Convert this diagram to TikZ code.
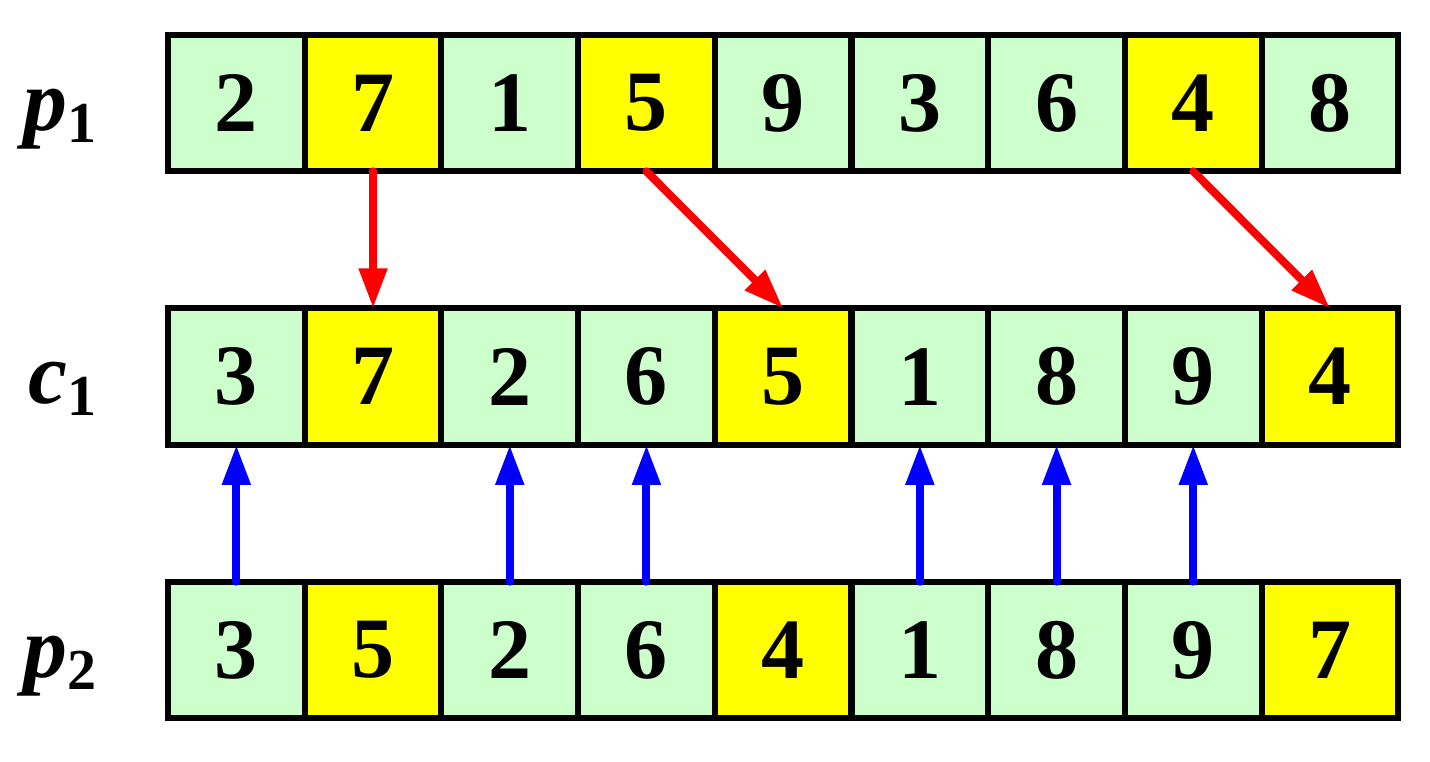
\documentclass[tikz,border=0pt]{standalone}
\usepackage{fontspec}
\setmainfont{Liberation Serif}
\usetikzlibrary{arrows.meta}
\definecolor{cellgreen}{RGB}{204,255,204}
\definecolor{cellyellow}{RGB}{255,255,0}
\begin{document}
\begin{tikzpicture}[x=0.02cm, y=-0.02cm,
	cell/.style={rectangle, draw, line width=0.12cm, minimum size=2.734cm,
		inner sep=0pt, outer sep=0pt, font=\fontsize{49}{50}\selectfont\bfseries},
	rowname/.style={anchor=base, font=\fontsize{50}{50}\selectfont\bfseries\itshape},
	gave/.style={draw=red, line width=0.16cm, line cap=round,
		-{Triangle[length=0.8cm,width=0.54cm]}},
	kept/.style={draw=blue, line width=0.16cm, line cap=round,
		-{Triangle[length=0.8cm,width=0.54cm]}}]
	\useasboundingbox (0,0) rectangle (1430,761);
	% Place row names
	\node[rowname] (lp1) at (60,130) {p\raisebox{-0.24cm}{\fontsize{33}{33}\selectfont\upshape 1}};
	\node[rowname] (lc1) at (62,403.6) {c\raisebox{-0.24cm}{\fontsize{33}{33}\selectfont\upshape 1}};
	\node[rowname] (lp2) at (60,677) {p\raisebox{-0.24cm}{\fontsize{33}{33}\selectfont\upshape 2}};
	% Place cells
	\foreach \v/\f [count=\i] in {2/cellgreen,7/cellyellow,1/cellgreen,5/cellyellow,9/cellgreen,3/cellgreen,6/cellgreen,4/cellyellow,8/cellgreen}
		\node[cell, fill=\f] (p1-\i) at (99.65+136.7*\i,103) {\v};
	\foreach \v/\f [count=\i] in {3/cellgreen,7/cellyellow,2/cellgreen,6/cellgreen,5/cellyellow,1/cellgreen,8/cellgreen,9/cellgreen,4/cellyellow}
		\node[cell, fill=\f] (c1-\i) at (99.65+136.7*\i,376.6) {\v};
	\foreach \v/\f [count=\i] in {3/cellgreen,5/cellyellow,2/cellgreen,6/cellgreen,4/cellyellow,1/cellgreen,8/cellgreen,9/cellgreen,7/cellyellow}
		\node[cell, fill=\f] (p2-\i) at (99.65+136.7*\i,650) {\v};
	% Arrows
	\draw[gave] (p1-2.south) -- (c1-2.north);
	\draw[gave] (p1-4.south) -- (c1-5.north);
	\draw[gave] (p1-8.south) -- (c1-9.north);
	\foreach \i in {1,3,4,6,7,8}
		\draw[kept] (p2-\i.north) -- (c1-\i.south);
\end{tikzpicture}
\end{document}
